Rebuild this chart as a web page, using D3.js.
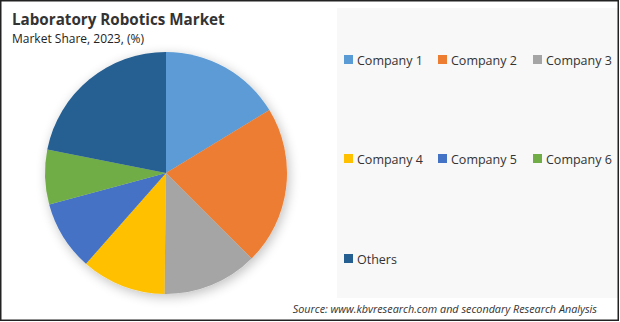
<!DOCTYPE html>
<html><head><meta charset="utf-8">
<script src="https://cdn.jsdelivr.net/npm/d3@7"></script>
<style>body{margin:0;background:#fff}svg{display:block}</style>
</head><body>
<script>
const categories = ["Company 1","Company 2","Company 3","Company 4","Company 5","Company 6","Others"];
const shares = [16.3, 21.2, 12.7, 11.3, 9.3, 7.3, 21.9];
const colors = ["#5b9bd5","#ed7d31","#a5a5a5","#ffc000","#4472c4","#70ad47","#255e91"];
const title = "Laboratory Robotics Market";
const subtitle = "Market Share, 2023, (%)";
const source = "Source: www.kbvresearch.com and secondary Research Analysis";

const W = 620, H = 322;
const svg = d3.select("body").append("svg").attr("width", W).attr("height", H);
const defs = svg.append("defs");
const f = defs.append("filter").attr("id","sh").attr("x","-20%").attr("y","-20%").attr("width","140%").attr("height","140%");
f.append("feGaussianBlur").attr("in","SourceAlpha").attr("stdDeviation",6);
f.append("feOffset").attr("dx",2).attr("dy",3).attr("result","b");
f.append("feComponentTransfer").append("feFuncA").attr("type","linear").attr("slope",0.25);
const m = f.append("feMerge"); m.append("feMergeNode"); m.append("feMergeNode").attr("in","SourceGraphic");

svg.append("rect").attr("x",0).attr("y",0).attr("width",W).attr("height",H).attr("fill","#fff");
svg.append("rect").attr("x",337).attr("y",8).attr("width",281).attr("height",290).attr("fill","#f8f8f8");

svg.append("text").attr("x",12).attr("y",25).attr("font-family","Open Sans, sans-serif").attr("font-weight","bold")
  .attr("font-size",15.2).attr("fill","#333").text(title);
svg.append("text").attr("x",12).attr("y",43).attr("font-family","Open Sans, sans-serif")
  .attr("font-size",12).attr("fill","#222").text(subtitle);

const cx = 166, cy = 173, r = 121;
const pie = d3.pie().sort(null).value(d => d);
const arc = d3.arc().innerRadius(0).outerRadius(r);
const color = d3.scaleOrdinal().domain(categories).range(colors);
const g = svg.append("g").attr("transform",`translate(${cx},${cy})`).attr("filter","url(#sh)");
g.selectAll("path").data(pie(shares)).join("path")
  .attr("d", arc).attr("fill", (d,i) => color(categories[i]));

const legendPos = [[344,60],[438,60],[533,60],[344,159],[438,159],[533,159],[344,259]];
const lg = svg.append("g");
categories.forEach((c,i) => {
  const [x,y] = legendPos[i];
  lg.append("rect").attr("x",x).attr("y",y-5).attr("width",9).attr("height",9).attr("fill",color(c));
  lg.append("text").attr("x",x+13).attr("y",y+4.5).attr("font-family","Open Sans, sans-serif")
    .attr("font-size",12.5).attr("fill","#333").text(c);
});

svg.append("text").attr("x",597).attr("y",313).attr("text-anchor","end").attr("font-family","Open Sans, sans-serif")
  .attr("font-style","italic").attr("font-size",10.8).attr("fill","#333").text(source);

svg.append("rect").attr("x",0.75).attr("y",0.75).attr("width",W-2.5).attr("height",H-2.5)
  .attr("fill","none").attr("stroke","#222").attr("stroke-width",1.5);
</script>
</body></html>
